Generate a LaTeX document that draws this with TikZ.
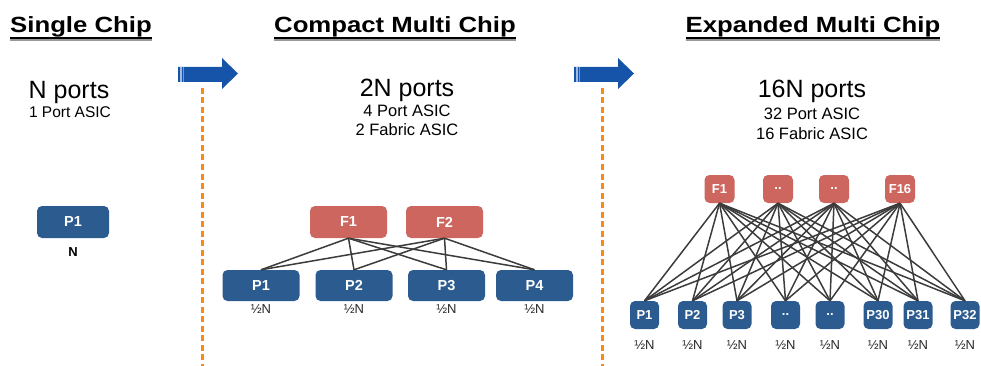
\documentclass[tikz,border=0pt]{standalone}
\usepackage{fontspec}
\setmainfont{Liberation Sans}
\newfontfamily\titlefont{Liberation Sans}[FakeStretch=1.17]
\usetikzlibrary{shapes,shadows,calc}

\definecolor{asicblue}{RGB}{43,91,143}
\definecolor{fabricred}{RGB}{204,102,94}
\definecolor{arrowblue}{RGB}{22,84,170}
\definecolor{cutorange}{RGB}{255,136,20}
\definecolor{linkgray}{RGB}{60,60,60}

\begin{document}
\begin{tikzpicture} [x=1pt, y=-1pt]
    \tikzstyle{every node}=[inner sep=0pt]
    \tikzstyle{chiptitle}=[anchor=base, font=\titlefont\fontsize{22}{26}\selectfont\bfseries]
    \tikzstyle{portcount}=[anchor=base, font=\fontsize{25}{30}\selectfont]
    \tikzstyle{asicinfo}=[anchor=base, font=\fontsize{16.5}{20}\selectfont]
    \tikzstyle{portasic}=[rounded corners=5pt,
				% The filling:
				fill=asicblue,
				% The text:
				text=white, font=\fontsize{14.5}{16}\selectfont\bfseries
					]
    \tikzstyle{fabricasic}=[portasic, fill=fabricred]
    \tikzstyle{share}=[font=\fontsize{13}{15}\selectfont, text=black!85]
    \tikzstyle{link}=[draw=linkgray, line width=1.5pt]
    \tikzstyle{cut}=[draw=cutorange, line width=3pt, dash pattern=on 6pt off 3.5pt]

    \useasboundingbox (0,0) rectangle (981,366);

    % titles
    \node[chiptitle] (single) at (81,33) {Single Chip};
    \node[chiptitle] (compact) at (395,33) {Compact Multi Chip};
    \node[chiptitle] (expanded) at (813,33) {Expanded Multi Chip};
    \foreach \t in {single, compact, expanded} {
        \draw[line width=1.2pt, black!40] ([yshift=-7pt]\t.base west) -- ([yshift=-7pt]\t.base east);
        \draw[line width=2pt] ([yshift=-5pt]\t.base west) -- ([yshift=-5pt]\t.base east);
    }

    % arrows and dividers
    \foreach \ax/\dx in {178/202, 574/602} {
        \fill[arrowblue] (\ax,67) -- ++(44,0) -- ++(0,-9) -- ++(16,15.5)
            -- ++(-16,15.5) -- ++(0,-7) -- ++(-44,0) -- cycle;
        \fill[white, opacity=0.6] (\ax+2,67) rectangle ++(1.5,15);
        \fill[white, opacity=0.4] (\ax+5,67) rectangle ++(1.2,15);
        \draw[cut] (\dx,88) -- (\dx,366);
    }

    % single chip
    \node[portcount] (sports) at (69,99) {N ports};
    \node[asicinfo, font=\fontsize{15.5}{18}\selectfont] (sinfo) at (70,118) {1 Port ASIC};
    \node[portasic, minimum width=72pt, minimum height=32pt] (sp1) at (73,222) {P1};
    \node[share, font=\fontsize{13}{15}\selectfont\bfseries, text=black] (ss1) at (73,252) {N};

    % compact multi chip
    \node[portcount] (cports) at (407,97) {2N ports};
    \node[asicinfo] (cinfo1) at (407,117) {4 Port ASIC};
    \node[asicinfo] (cinfo2) at (407,136) {2 Fabric ASIC};
    \foreach \x/\name [count=\i] in {348.5/F1, 444.5/F2}
        \node[fabricasic, minimum width=77pt, minimum height=32pt] (cf\i) at (\x,222) {\name};
    \foreach \x/\name [count=\i] in {261/P1, 354/P2, 446.5/P3, 534.5/P4} {
        \node[portasic, minimum width=77pt, minimum height=31pt] (cp\i) at (\x,285.5) {\name};
        \node[share] (cs\i) at (\x,309) {½N};
    }
    \foreach \f in {1,2}
        \foreach \p in {1,...,4}
            \draw[link] (cf\f.south) -- (cp\p.north);

    % expanded multi chip
    \node[portcount] (eports) at (812,98) {16N ports};
    \node[asicinfo] (einfo1) at (812,120) {32 Port ASIC};
    \node[asicinfo] (einfo2) at (812,140) {16 Fabric ASIC};
    \foreach \x/\name [count=\i] in {719.5/F1, 778/.., 834/.., 900/F16}
        \node[fabricasic, minimum width=30pt, minimum height=28pt,
              font=\fontsize{13}{14}\selectfont\bfseries] (ef\i) at (\x,189) {\name};
    \foreach \x/\name [count=\i] in {644.5/P1, 692.5/P2, 737/P3, 785.5/.., 830/.., 878/P30, 918/P31, 965/P32} {
        \node[portasic, minimum width=29pt, minimum height=28pt,
              font=\fontsize{13}{14}\selectfont\bfseries] (ep\i) at (\x,315) {\name};
        \node[share] (es\i) at (\x,345) {½N};
    }
    \foreach \f in {1,...,4}
        \foreach \p in {1,...,8}
            \draw[link] (ef\f.south) -- (ep\p.north);
\end{tikzpicture}
\end{document}
